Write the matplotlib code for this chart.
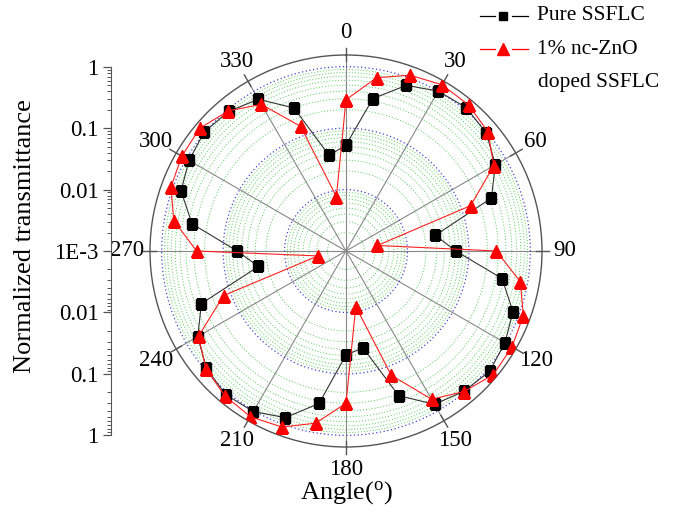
import numpy as np
import matplotlib
matplotlib.use("Agg")
import matplotlib.pyplot as plt
from matplotlib.lines import Line2D

plt.rcParams['font.family'] = ['Liberation Serif', 'DejaVu Serif']
plt.rcParams['mathtext.fontset'] = 'stix'

# ---- data ----
angles_deg = [0, 10, 20, 30, 40, 50, 60, 70, 80, 90, 100, 110, 120, 130, 140, 150, 160, 170,
              180, 190, 200, 210, 220, 230, 240, 250, 260, 270, 280, 290, 300, 310, 320, 330, 340, 350]
pure_ssflc = [0.053, 0.33, 0.74, 1.01, 1.11, 0.96, 0.64, 0.33, 0.030,
              0.061, 0.38, 0.78, 0.97, 1.12, 0.96, 0.76, 0.32, 0.040,
              0.049, 0.33, 0.77, 1.04, 1.12, 0.93, 0.61, 0.32, 0.028,
              0.059, 0.35, 0.72, 0.89, 1.03, 0.93, 0.71, 0.30, 0.038]
doped_ssflc = [0.29, 0.73, 1.11, 1.33, 1.27, 1.04, 0.60, 0.144, 0.0033,
               0.28, 0.76, 1.18, 1.32, 1.35, 0.97, 0.61, 0.142, 0.0083,
               0.30, 0.70, 1.12, 1.30, 1.18, 0.95, 0.59, 0.132, 0.0029,
               0.27, 0.70, 1.08, 1.22, 1.28, 0.95, 0.57, 0.144, 0.0079]
angle_tick_labels = ['0', '30', '60', '90', '120', '150', '180', '210', '240', '270', '300', '330']
left_tick_labels = ['1', '0.1', '0.01', '1E-3', '0.01', '0.1', '1']
series_names = ['Pure SSFLC', '1% nc-ZnO', 'doped SSFLC']

W, H = 681, 516
fig = plt.figure(figsize=(W / 100, H / 100), dpi=100)

cx, cy, R = 346, 251, 196
ax = fig.add_axes([(cx - R) / W, (H - cy - R) / H, 2 * R / W, 2 * R / H], projection='polar')
ax.set_theta_zero_location('N')
ax.set_theta_direction(-1)
rmin, rmax = -3.0, 0.19
ax.set_rlim(rmin, rmax)

# angular grid
ax.set_xticks(np.deg2rad(np.arange(0, 360, 30)))
ax.set_xticklabels(angle_tick_labels, fontsize=16.5)
ax.tick_params(axis='x', pad=6)
ax.xaxis.grid(True, color='#888888', lw=0.8, ls='-')
# radial grid: major decades blue dotted
ax.set_yticks([-2, -1, 0])
ax.set_yticklabels([])
ax.yaxis.grid(True, color='#4444cc', lw=0.9, ls=(0, (1, 2)))
ax.spines['polar'].set_color('#555555')
ax.spines['polar'].set_linewidth(1.0)

tt = np.linspace(0, 2 * np.pi, 400)
for n in (-3, -2, -1):
    for k in range(2, 10):
        ax.plot(tt, np.full_like(tt, n + np.log10(k)), color='#55cc55', lw=0.7,
                ls=(0, (1, 2)), zorder=1)

# outer tick marks on angular axis
for a in np.arange(0, 360, 30):
    ax.plot([np.deg2rad(a)] * 2, [rmax - 0.1, rmax + 0.12], color='#555555', lw=1.0,
            clip_on=False, zorder=2)

th = np.deg2rad(np.array(angles_deg + [angles_deg[0]]))
r1 = np.log10(np.array(pure_ssflc + [pure_ssflc[0]]))
r2 = np.log10(np.array(doped_ssflc + [doped_ssflc[0]]))
ax.plot(th, r1, color='#333333', lw=0.8, marker='s', ms=6.5, mfc='black', mec='black', zorder=5)
ax.plot(th, r2, color='#ff2020', lw=0.8, marker='^', ms=9, mfc='#ff0000', mec='#ff0000', zorder=6)

# left mirrored log axis
top_px, bot_px, x_px = 67, 435, 111
ax2 = fig.add_axes([x_px / W, (H - bot_px) / H, 0.0001, (bot_px - top_px) / H])
for s in ('right', 'top', 'bottom'):
    ax2.spines[s].set_visible(False)
ax2.spines['left'].set_color('#555555')
ax2.set_xticks([])
ax2.set_ylim(-3, 3)
ax2.set_yticks([3, 2, 1, 0, -1, -2, -3])
ax2.set_yticklabels(left_tick_labels, fontsize=16.5)
minor = []
for n in (-3, -2, -1):
    for k in range(2, 10):
        p = np.log10(k) + n + 3
        minor += [p, -p]
ax2.set_yticks(minor, minor=True)
ax2.tick_params(axis='y', which='major', length=6, width=0.9, color='#555555', pad=3)
ax2.tick_params(axis='y', which='minor', length=3, width=0.7, color='#555555')
ax2.patch.set_visible(False)

fig.text(25 / W, 1 - 236 / H, 'Normalized transmittance', rotation=90, ha='center',
         va='center', fontsize=19)
fig.text(346 / W, 1 - 493 / H, 'Angle($\\mathregular{^o}$)', ha='center', va='center', fontsize=19)

# legend
def leg_row(ypx, color, marker, ms, label):
    y = 1 - ypx / H
    fig.add_artist(Line2D([480 / W, 495 / W], [y, y], color=color, lw=0.9))
    fig.add_artist(Line2D([512 / W, 528 / W], [y, y], color=color, lw=0.9))
    fig.add_artist(Line2D([503 / W], [y], marker=marker, ms=ms, color=color, ls='none'))
    fig.text(537 / W, y, label, ha='left', va='center', fontsize=15.5)

leg_row(16, 'black', 's', 5.5, series_names[0])
leg_row(49, '#ff0000', '^', 9, series_names[1])
fig.text(538 / W, 1 - 82 / H, series_names[2], ha='left', va='center', fontsize=15.5)

fig.savefig('out.png', dpi=100)
